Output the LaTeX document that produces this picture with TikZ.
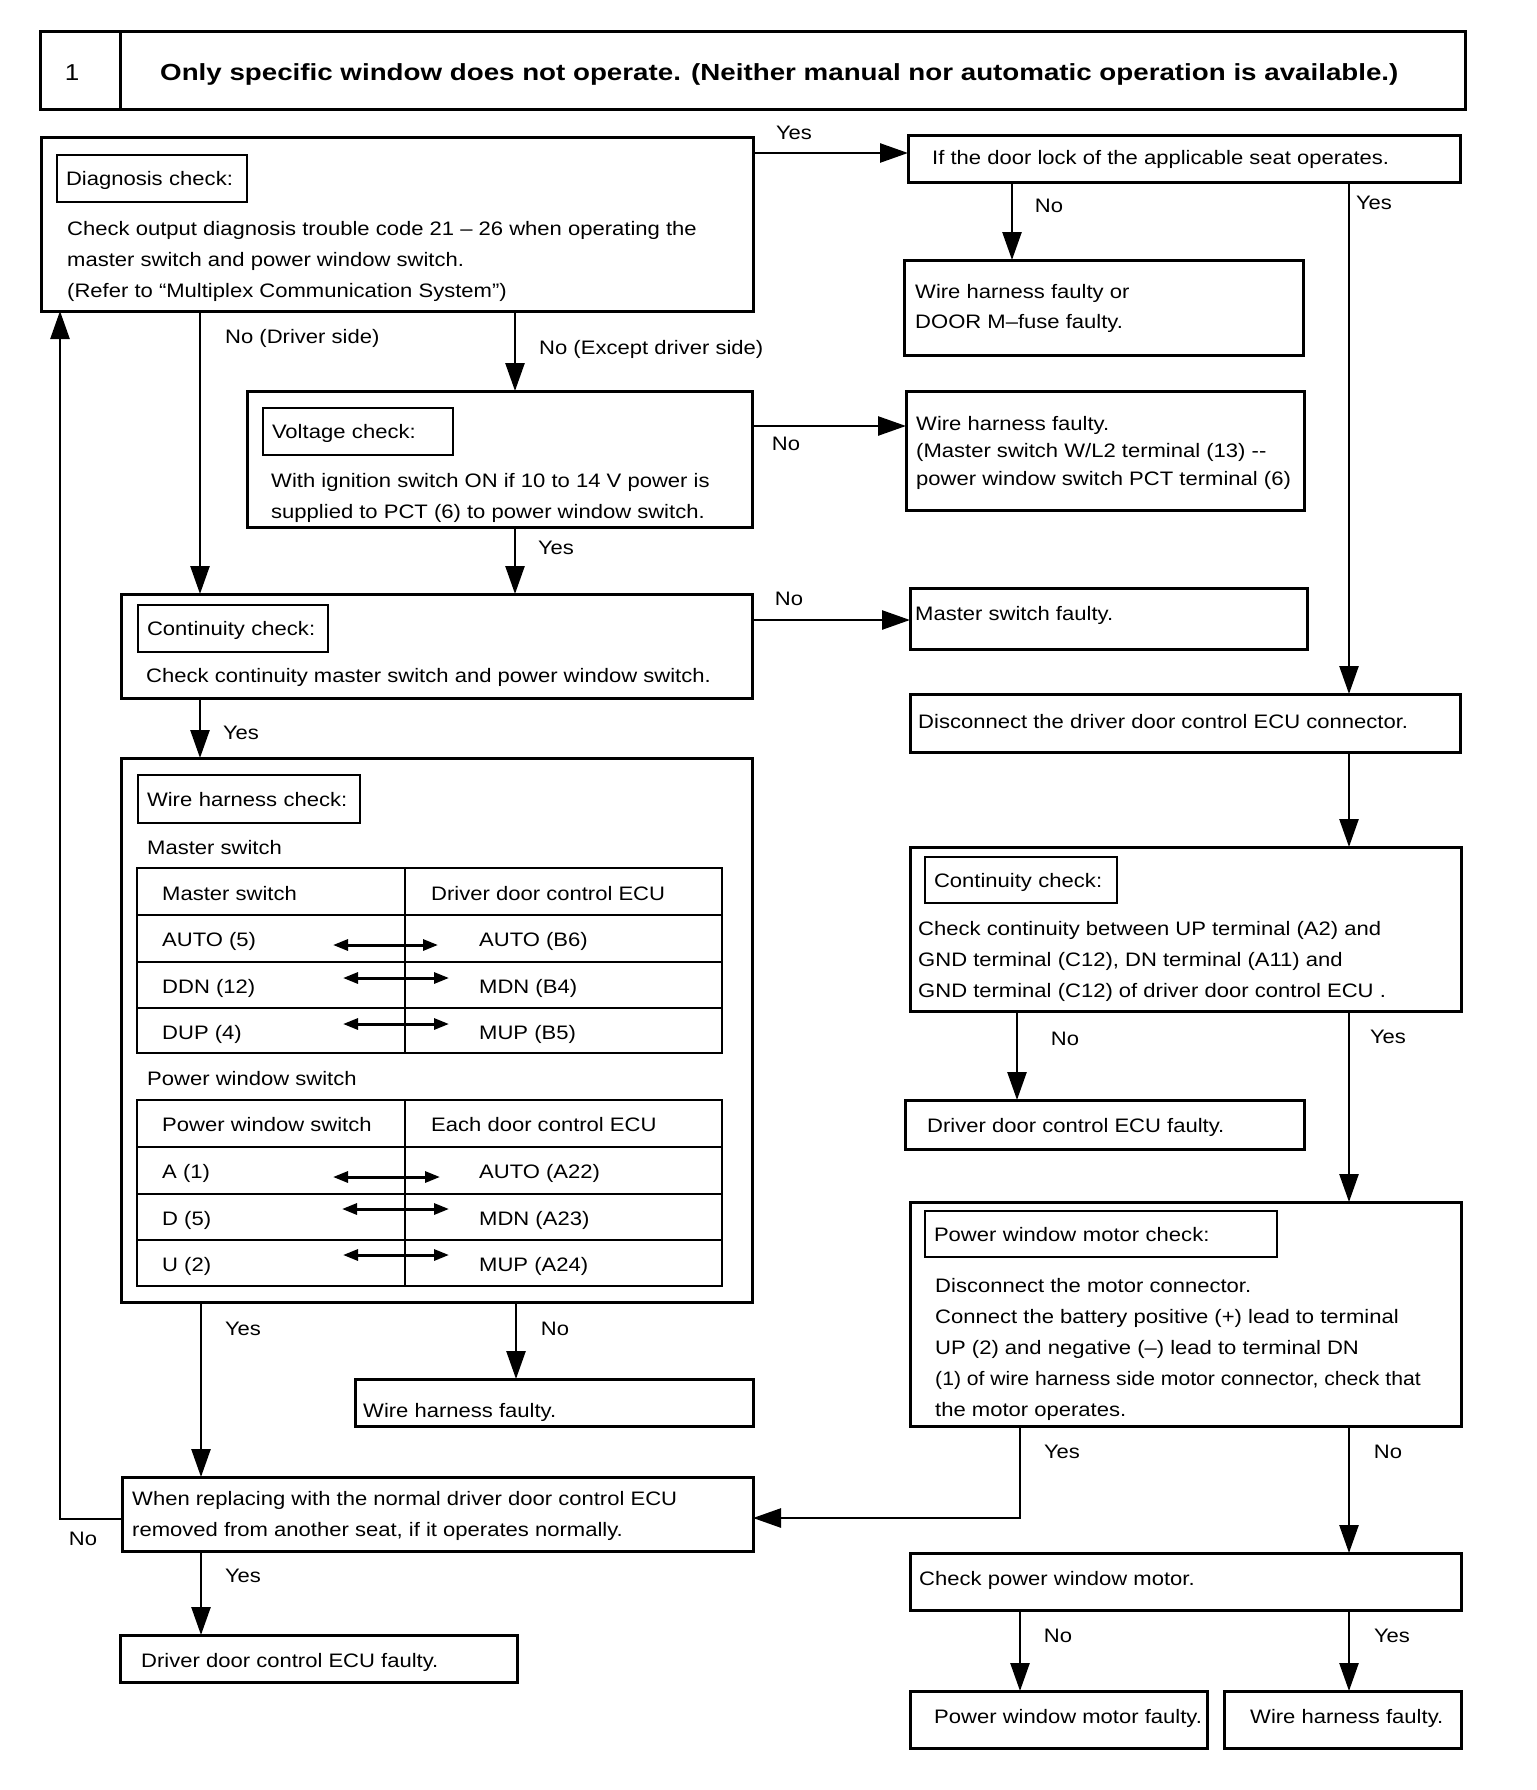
\documentclass[tikz,border=0pt]{standalone}
\usepackage{fontspec}
\usepackage{graphicx}
\setmainfont{Liberation Sans}[FakeStretch=1.13]
\newfontfamily\titlefont{Liberation Sans}[FakeStretch=1.19]
\usetikzlibrary{arrows.meta,calc}
\newcommand\fs{\fontsize{19.5}{31}\selectfont}
\newcommand\fsb{\fontsize{19.5}{27.5}\selectfont}
\begin{document}
\begin{tikzpicture}[x=1pt,y=-1pt,
 box/.style={draw, line width=3pt, anchor=north west, inner sep=0pt, outer sep=0pt},
 lbox/.style={draw, line width=2pt, anchor=north west, inner xsep=9pt, inner ysep=0pt, outer sep=0pt, text height=14pt, text depth=0pt, align=left, font=\fs},
 txt/.style={anchor=west, inner sep=0pt, text height=14pt, text depth=0pt, font=\fs},
 mtxt/.style={anchor=north west, inner sep=0pt, align=left, font=\fs},
 lab/.style={anchor=center, inner sep=0pt, text height=14pt, text depth=0pt, font=\fs},
 arr/.style={line width=2.6pt, -{Triangle[length=28pt,width=19pt]}},
 tbl/.style={line width=2pt},
 dbl/.style={line width=3pt, {Triangle[length=15pt,width=11pt]}-{Triangle[length=15pt,width=11pt]}},
]
\useasboundingbox (0,0) rectangle (1536,1790);
\fill[white] (0,0) rectangle (1536,1790);

% ---------- title ----------
\node[box, minimum width=1425pt, minimum height=78pt] (title) at (40,32) {};
\draw[line width=3pt] (title.north west -| 120,0) -- (title.south west -| 120,0);
\node[lab, font=\fontsize{23}{28}\selectfont, text height=16pt] (tnum) at (72,73) {1};
\node[txt, font=\titlefont\bfseries\fontsize{23.3}{28}\selectfont, text height=16pt] (ttext) at (160,73) {Only specific window does not operate. (Neither manual nor automatic operation is available.)};

% ---------- left column ----------
\node[box, minimum width=712pt, minimum height=173pt] (diag) at (41,138) {};
\node[lbox, text width=172pt, minimum height=47pt] (diagl) at (57,155) {Diagnosis check:};
\node[mtxt] (diagt) at (67,221) {Check output diagnosis trouble code 21 – 26 when operating the\\master switch and power window switch.\\(Refer to “Multiplex Communication System”)};

\node[box, minimum width=505pt, minimum height=136pt] (volt) at (247,391) {};
\node[lbox, text width=172pt, minimum height=47pt] (voltl) at (263,408) {Voltage check:};
\node[mtxt] (voltt) at (271,473) {With ignition switch ON if 10 to 14 V power is\\supplied to PCT (6) to power window switch.};

\node[box, minimum width=631pt, minimum height=104pt] (cont) at (121,594) {};
\node[lbox, text width=172pt, minimum height=47pt] (contl) at (138,605) {Continuity check:};
\node[txt] (contt) at (146,675) {Check continuity master switch and power window switch.};

\node[box, minimum width=631pt, minimum height=544pt] (whc) at (121,758) {};
\node[lbox, text width=204pt, minimum height=48pt] (whcl) at (138,775) {Wire harness check:};
\node[txt] (ms) at (147,847) {Master switch};
\draw[tbl] (137,868) rectangle (722,1053);
\draw[tbl] (137,915) -- (722,915) (137,962) -- (722,962) (137,1008) -- (722,1008) (405,868) -- (405,1053);
\node[txt] (t1h1) at (162,893) {Master switch};
\node[txt] (t1h2) at (431,893) {Driver door control ECU};
\node[txt] (t1a) at (162,939) {AUTO (5)};
\node[txt] (t1b) at (479,939) {AUTO (B6)};
\node[txt] (t1c) at (162,986) {DDN (12)};
\node[txt] (t1d) at (479,986) {MDN (B4)};
\node[txt] (t1e) at (162,1032) {DUP (4)};
\node[txt] (t1f) at (479,1032) {MUP (B5)};
\draw[dbl] (333,945) -- (438,945);
\draw[dbl] (343,978) -- (449,978);
\draw[dbl] (343,1024) -- (449,1024);
\node[txt] (pws) at (147,1078) {Power window switch};
\draw[tbl] (137,1100) rectangle (722,1286);
\draw[tbl] (137,1147) -- (722,1147) (137,1194) -- (722,1194) (137,1240) -- (722,1240) (405,1100) -- (405,1286);
\node[txt] (t2h1) at (162,1124) {Power window switch};
\node[txt] (t2h2) at (431,1124) {Each door control ECU};
\node[txt] (t2a) at (162,1171) {A (1)};
\node[txt] (t2b) at (479,1171) {AUTO (A22)};
\node[txt] (t2c) at (162,1218) {D (5)};
\node[txt] (t2d) at (479,1218) {MDN (A23)};
\node[txt] (t2e) at (162,1264) {U (2)};
\node[txt] (t2f) at (479,1264) {MUP (A24)};
\draw[dbl] (333,1177) -- (440,1177);
\draw[dbl] (342,1209) -- (449,1209);
\draw[dbl] (343,1255) -- (449,1255);

\node[box, minimum width=398pt, minimum height=47pt] (whf2) at (355,1379) {};
\node[txt] (whf2t) at (363,1410) {Wire harness faulty.};

\node[box, minimum width=631pt, minimum height=74pt] (repl) at (122,1477) {};
\node[mtxt] (replt) at (132,1491) {When replacing with the normal driver door control ECU\\removed from another seat, if it operates normally.};

\node[box, minimum width=397pt, minimum height=47pt] (ddf2) at (120,1635) {};
\node[txt] (ddf2t) at (141,1660) {Driver door control ECU faulty.};

% ---------- right column ----------
\node[box, minimum width=552pt, minimum height=47pt] (door) at (908,136) {};
\node[txt] (doort) at (932,158) {If the door lock of the applicable seat operates.};

\node[box, minimum width=399pt, minimum height=95pt] (fuse) at (904,260) {};
\node[mtxt, font=\fontsize{19.5}{30}\selectfont] (fuset) at (915,284) {Wire harness faulty or\\DOOR M–fuse faulty.};

\node[box, minimum width=398pt, minimum height=119pt] (whf1) at (906,391) {};
\node[mtxt, font=\fsb] (whf1t) at (916,416) {Wire harness faulty.\\(Master switch W/L2 terminal (13) -{}-\\power window switch PCT terminal (6)};

\node[box, minimum width=397pt, minimum height=61pt] (msf) at (910,588) {};
\node[txt] (msft) at (915,613) {Master switch faulty.};

\node[box, minimum width=550pt, minimum height=58pt] (disc) at (910,694) {};
\node[txt] (disct) at (918,721) {Disconnect the driver door control ECU connector.};

\node[box, minimum width=551pt, minimum height=164pt] (cont2) at (910,847) {};
\node[lbox, text width=174pt, minimum height=46pt] (cont2l) at (925,857) {Continuity check:};
\node[mtxt] (cont2t) at (918,921) {Check continuity between UP terminal (A2) and\\GND terminal (C12), DN terminal (A11) and\\GND terminal (C12) of driver door control ECU .};

\node[box, minimum width=399pt, minimum height=49pt] (ddf1) at (905,1100) {};
\node[txt] (ddf1t) at (927,1125) {Driver door control ECU faulty.};

\node[box, minimum width=551pt, minimum height=224pt] (motor) at (910,1202) {};
\node[lbox, text width=334pt, minimum height=46pt] (motorl) at (925,1211) {Power window motor check:};
\node[mtxt] (motort) at (935,1278) {Disconnect the motor connector.\\Connect the battery positive (+) lead to terminal\\UP (2) and negative (–) lead to terminal DN\\\scalebox{0.96}[1]{(1) of wire harness side motor connector, check that}\\the motor operates.};

\node[box, minimum width=551pt, minimum height=57pt] (cpm) at (910,1553) {};
\node[txt] (cpmt) at (919,1578) {Check power window motor.};

\node[box, minimum width=297pt, minimum height=57pt] (pwmf) at (910,1691) {};
\node[txt] (pwmft) at (934,1716) {Power window motor faulty.};

\node[box, minimum width=237pt, minimum height=57pt] (whf3) at (1224,1691) {};
\node[txt] (whf3t) at (1250,1716) {Wire harness faulty.};

% ---------- connectors ----------
\draw[arr] (diag.east |- 0,153) -- (door.west |- 0,153);
\node[lab] (l1) at (794,133) {Yes};
\draw[arr] (door.south -| 1012,0) -- (fuse.north -| 1012,0);
\node[lab] (l2) at (1049,205) {No};
\draw[arr] (door.south -| 1349,0) -- (disc.north -| 1349,0);
\node[lab] (l3) at (1374,203) {Yes};

\draw[arr] (diag.south -| 200,0) -- (cont.north -| 200,0);
\node[txt] (l4) at (225,336) {No (Driver side)};
\draw[arr] (diag.south -| 515,0) -- (volt.north -| 515,0);
\node[txt] (l5) at (539,347) {No (Except driver side)};

\draw[arr] (volt.east |- 0,426) -- (whf1.west |- 0,426);
\node[lab] (l6) at (786,443) {No};
\draw[arr] (volt.south -| 515,0) -- (cont.north -| 515,0);
\node[lab] (l7) at (556,547) {Yes};

\draw[arr] (cont.east |- 0,620) -- (msf.west |- 0,620);
\node[lab] (l8) at (789,598) {No};
\draw[arr] (cont.south -| 200,0) -- (whc.north -| 200,0);
\node[lab] (l9) at (241,732) {Yes};

\draw[arr] (disc.south -| 1349,0) -- (cont2.north -| 1349,0);
\draw[arr] (cont2.south -| 1017,0) -- (ddf1.north -| 1017,0);
\node[lab] (l10) at (1065,1038) {No};
\draw[arr] (cont2.south -| 1349,0) -- (motor.north -| 1349,0);
\node[lab] (l11) at (1388,1036) {Yes};

\draw[arr] (motor.south -| 1020,0) |- (repl.east |- 0,1518);
\node[lab] (l12) at (1062,1451) {Yes};
\draw[arr] (motor.south -| 1349,0) -- (cpm.north -| 1349,0);
\node[lab] (l13) at (1388,1451) {No};

\draw[arr] (cpm.south -| 1020,0) -- (pwmf.north -| 1020,0);
\node[lab] (l14) at (1058,1635) {No};
\draw[arr] (cpm.south -| 1349,0) -- (whf3.north -| 1349,0);
\node[lab] (l15) at (1392,1635) {Yes};

\draw[arr] (whc.south -| 201,0) -- (repl.north -| 201,0);
\node[lab] (l16) at (243,1328) {Yes};
\draw[arr] (whc.south -| 516,0) -- (whf2.north -| 516,0);
\node[lab] (l17) at (555,1328) {No};

\draw[arr] (repl.west |- 0,1519) -| (diag.south -| 60,0);
\node[lab] (l18) at (83,1538) {No};
\draw[arr] (repl.south -| 201,0) -- (ddf2.north -| 201,0);
\node[lab] (l19) at (243,1575) {Yes};
\end{tikzpicture}
\end{document}
